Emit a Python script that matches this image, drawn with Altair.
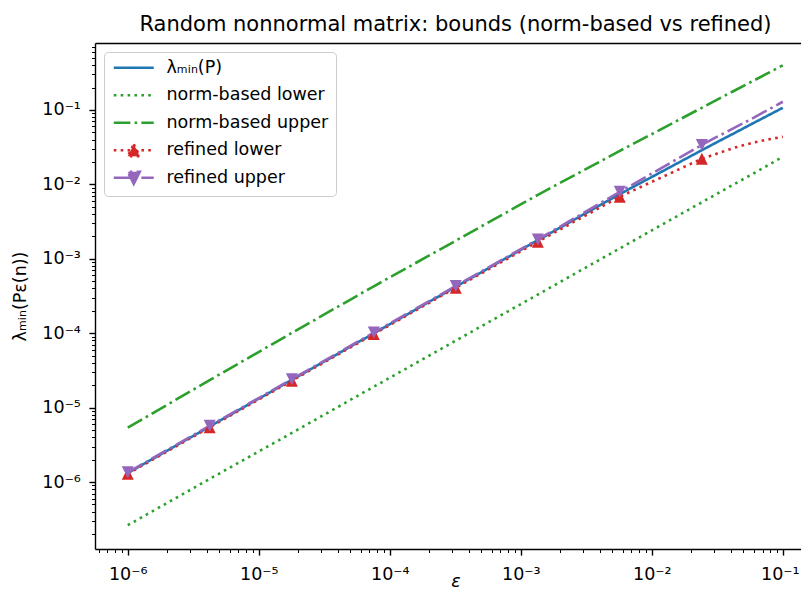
import altair as alt
import pandas as pd

# ---- data (log-log) ----
eps = [1.0e-6, 4.22e-6, 1.79e-5, 7.55e-5, 3.19e-4, 1.35e-3, 5.70e-3, 2.41e-2,
       3.16e-2, 4.22e-2, 5.62e-2, 7.50e-2, 1.0e-1]
lam_min = [1.32e-6, 5.57e-6, 2.36e-5, 9.95e-5, 4.21e-4, 1.78e-3, 7.41e-3, 2.88e-2,
           3.71e-2, 4.83e-2, 6.31e-2, 8.22e-2, 1.07e-1]
norm_lower = [2.63e-7, 1.10e-6, 4.57e-6, 1.91e-5, 7.94e-5, 3.31e-4, 1.38e-3, 5.75e-3,
              7.50e-3, 1.00e-2, 1.32e-2, 1.76e-2, 2.34e-2]
norm_upper = [5.37e-6, 2.34e-5, 1.01e-4, 4.27e-4, 1.75e-3, 7.24e-3, 2.82e-2, 1.07e-1,
              1.38e-1, 1.80e-1, 2.34e-1, 3.05e-1, 3.98e-1]
refined_lower = [1.29e-6, 5.45e-6, 2.30e-5, 9.72e-5, 4.09e-4, 1.70e-3, 6.84e-3, 2.21e-2,
                 2.60e-2, 3.09e-2, 3.55e-2, 3.98e-2, 4.37e-2]
refined_upper = [1.35e-6, 5.70e-6, 2.41e-5, 1.02e-4, 4.31e-4, 1.82e-3, 7.94e-3, 3.39e-2,
                 4.37e-2, 5.69e-2, 7.41e-2, 9.77e-2, 1.29e-1]
n_markers = 8  # markers drawn on the first 8 eps values

series_names = ["λₘᵢₙ(P)", "norm-based lower", "norm-based upper", "refined lower", "refined upper"]
series_values = [lam_min, norm_lower, norm_upper, refined_lower, refined_upper]
series_colors = ["#1f77b4", "#2ca02c", "#2ca02c", "#d62728", "#9467bd"]
series_dashes = [[1, 0], [2.6, 4.3], [16.6, 4.2, 2.6, 4.2], [2.6, 4.3], [16.6, 4.2, 2.6, 4.2]]
LINE = "M-3.33,0L3.33,0"
LINE_ONLY = LINE + "M0,-1M1,1M-1,1"
series_shapes = [LINE_ONLY, LINE_ONLY, LINE_ONLY,
                 LINE + "M0,-1L1,1L-1,1Z",
                 LINE + "M0,1L1,-1L-1,-1Z"]
marker_series = ["refined lower", "refined upper"]

decades = [1e-6, 1e-5, 1e-4, 1e-3, 1e-2, 1e-1]
decade_labels = ["10⁻⁶", "10⁻⁵", "10⁻⁴", "10⁻³", "10⁻²", "10⁻¹"]
minor_mult = [2, 3, 4, 5, 6, 7, 8, 9]
x_domain = [5.623e-7, 0.1377]
y_domain = [1.259e-7, 0.7943]

title_text = "Random nonnormal matrix: bounds (norm-based vs refined)"

# ---- tables ----
rows = []
for name, vals in zip(series_names, series_values):
    for i, (e, v) in enumerate(zip(eps, vals)):
        rows.append({"series": name, "eps": e, "val": v, "idx": i})
df = pd.DataFrame(rows)
df_markers = df[df["series"].isin(marker_series) & (df["idx"] < n_markers)]


def ticks_in(domain):
    vals = []
    for d in [decades[0] / 10] + decades:
        vals.append(d)
        for m in minor_mult:
            vals.append(m * d)
    return sorted(v for v in vals if domain[0] <= v <= domain[1])


label_expr = " : ".join(f"datum.value == {d!r} ? '{l}'" for d, l in zip(decades, decade_labels)) + " : ''"
major_test = "indexof([" + ",".join(repr(d) for d in decades) + "], datum.value) >= 0"
tick_size = {"condition": {"test": major_test, "value": 6.1}, "value": 3.5}
tick_width = {"condition": {"test": major_test, "value": 1.4}, "value": 1.05}

common_axis = dict(
    labelExpr=label_expr, tickSize=tick_size, tickWidth=tick_width, tickColor="black",
    domainColor="black", domainWidth=1.4, labelFont="DejaVu Sans", labelFontSize=17.5,
    labelColor="black", labelFlush=False, labelOverlap=False, grid=False,
    titleFont="DejaVu Sans", titleFontSize=17.5, titleFontWeight="normal", titleColor="black",
)

x_axis = alt.Axis(values=ticks_in(x_domain), labelPadding=10.5, title="ε", titleFontStyle="italic",
                  titleX=360.5, titleY=37, titleBaseline="alphabetic",
                  labelOffset={"condition": {"test": f"datum.value == {decades[-1]!r}", "value": -3},
                               "value": 0},
                  **common_axis)
y_axis = alt.Axis(values=ticks_in(y_domain), labelPadding=8.5, title="λₘᵢₙ(Pε(n))",
                  titleX=-75, titleBaseline="middle", **common_axis)
top_axis = alt.Axis(orient="top", ticks=False, labels=False, domain=True, domainColor="black",
                    domainWidth=1.4, grid=False, title=None)

xs = alt.Scale(type="log", domain=x_domain, nice=False)
ys = alt.Scale(type="log", domain=y_domain, nice=False)

lines = alt.Chart(df).mark_line(strokeWidth=2.6, strokeCap="butt", strokeJoin="round", clip=True).encode(
    x=alt.X("eps:Q", scale=xs, axis=x_axis),
    y=alt.Y("val:Q", scale=ys, axis=y_axis),
    stroke=alt.Stroke("series:N", scale=alt.Scale(domain=series_names, range=series_colors),
                      legend=alt.Legend(title=None)),
    strokeDash=alt.StrokeDash("series:N", scale=alt.Scale(domain=series_names, range=series_dashes),
                              legend=alt.Legend(title=None)),
    detail="series:N",
)

points = alt.Chart(df_markers).mark_point(filled=True, size=144, opacity=1, strokeWidth=0).encode(
    x=alt.X("eps:Q", scale=xs, axis=top_axis),
    y=alt.Y("val:Q", scale=ys, title="λₘᵢₙ(Pε(n))"),
    fill=alt.Fill("series:N", scale=alt.Scale(domain=series_names, range=series_colors),
                  legend=alt.Legend(title=None)),
    shape=alt.Shape("series:N", scale=alt.Scale(domain=series_names, range=series_shapes),
                    legend=alt.Legend(title=None)),
)

chart = alt.layer(lines, points).resolve_axis(x="independent").properties(
    width=706, height=506,
    title=alt.TitleParams(title_text, font="DejaVu Sans", fontSize=21, fontWeight="normal",
                          color="black", anchor="middle", frame="group", offset=-13.5,
                          baseline="alphabetic", dx=7.5),
    autosize=alt.AutoSizeParams(type="none"),
    padding={"left": 87, "top": 35, "right": 0, "bottom": 42},
).configure_view(stroke=None).configure_legend(
    orient="top-left", offset=9, padding=7, labelFont="DejaVu Sans", labelFontSize=17.5,
    labelColor="black", labelOffset=24, symbolOffset=14, rowPadding=4.5, symbolSize=144,
    symbolStrokeWidth=2.6, strokeColor="#cccccc", fillColor="rgba(255,255,255,0.8)",
    cornerRadius=4, labelLimit=400,
)

chart.save("out.html", embed_options={"renderer": "svg", "actions": False})
